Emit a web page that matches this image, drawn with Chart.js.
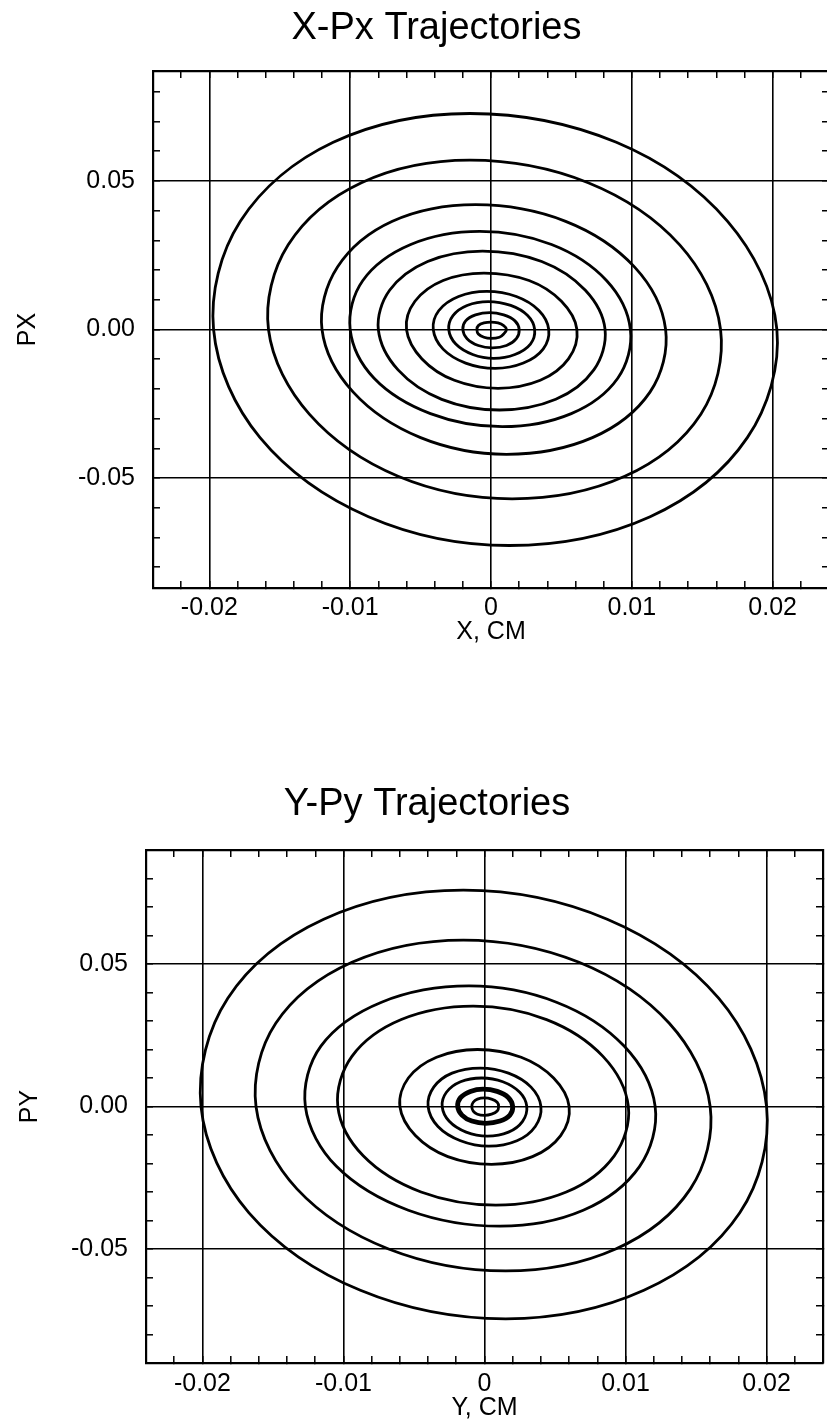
<!DOCTYPE html>
<html>
<head>
<meta charset="utf-8">
<title>X-Px / Y-Py Trajectories</title>
<script src="https://cdn.jsdelivr.net/npm/chart.js@4.4.1/dist/chart.umd.min.js"></script>
<style>
    html, body { margin: 0; padding: 0; background: #fff; overflow: hidden; }
    body { width: 827px; height: 1424px; position: relative; }
    canvas { position: absolute; left: 0; }
    #xpx { top: 0; }
    #ypy { top: 760px; }
</style>
</head>
<body>
<canvas id="xpx" width="873" height="660"></canvas>
<canvas id="ypy" width="854" height="664"></canvas>
<script>
// axis ticks (position in cm, momentum)
var posMinor = [-0.022, -0.020, -0.018, -0.016, -0.014, -0.012, -0.010, -0.008, -0.006, -0.004, -0.002, 0,
    0.002, 0.004, 0.006, 0.008, 0.010, 0.012, 0.014, 0.016, 0.018, 0.020, 0.022];
var posMajor = [-0.02, -0.01, 0, 0.01, 0.02];
var posLabels = ['-0.02', '-0.01', '0', '0.01', '0.02'];
var momMinor = [-0.08, -0.07, -0.06, -0.05, -0.04, -0.03, -0.02, -0.01, 0, 0.01, 0.02, 0.03, 0.04, 0.05, 0.06, 0.07, 0.08];
var momMajor = [-0.05, 0, 0.05];
var momLabels = ['-0.05', '0.00', '0.05'];

// X-Px orbits, outermost first, [x, px] going left -> top -> right -> bottom
var xOrbit1 = [[-0.0197, 0], [-0.0178, 0.0364], [-0.0112, 0.0630], [-0.0015, 0.0727], [0.0089, 0.0630], [0.0168, 0.0364],
    [0.0203, 0], [0.0182, -0.0364], [0.0113, -0.0630], [0.0013, -0.0727], [-0.0087, -0.0630], [-0.0164, -0.0364]];
var xOrbit2 = [[-0.0158, 0], [-0.0144, 0.0285], [-0.0092, 0.0494], [-0.0015, 0.0570], [0.0069, 0.0494], [0.0134, 0.0285],
    [0.0163, 0], [0.0149, -0.0285], [0.0095, -0.0494], [0.0015, -0.0570], [-0.0066, -0.0494], [-0.0129, -0.0285]];
var xOrbit3 = [[-0.0120, 0], [-0.0109, 0.0210], [-0.0070, 0.0364], [-0.0011, 0.0420], [0.0053, 0.0364], [0.0102, 0.0210],
    [0.0124, 0], [0.0113, -0.0210], [0.0072, -0.0364], [0.0011, -0.0420], [-0.0050, -0.0364], [-0.0098, -0.0210]];
var xOrbit4 = [[-0.0100, 0], [-0.0091, 0.0165], [-0.0057, 0.0286], [-0.0008, 0.0330], [0.0043, 0.0286], [0.0082, 0.0165],
    [0.0099, 0], [0.0090, -0.0164], [0.0057, -0.0283], [0.0008, -0.0327], [-0.0043, -0.0283], [-0.0083, -0.0164]];
var xOrbit5 = [[-0.0080, 0], [-0.0072, 0.0132], [-0.0045, 0.0229], [-0.0006, 0.0264], [0.0036, 0.0229], [0.0067, 0.0132],
    [0.0081, 0], [0.0073, -0.0136], [0.0046, -0.0235], [0.0006, -0.0271], [-0.0035, -0.0235], [-0.0066, -0.0136]];
var xOrbit6 = [[-0.0060, 0], [-0.0054, 0.0095], [-0.0034, 0.0165], [-0.0005, 0.0190], [0.0027, 0.0165], [0.0050, 0.0095],
    [0.0061, 0], [0.0055, -0.0099], [0.0035, -0.0171], [0.0005, -0.0198], [-0.0026, -0.0171], [-0.0049, -0.0099]];
var xOrbit7 = [[-0.0041, 0], [-0.0037, 0.0064], [-0.0023, 0.0111], [-0.0003, 0.0128], [0.0018, 0.0111], [0.0034, 0.0064],
    [0.0041, 0], [0.0037, -0.0066], [0.0023, -0.0113], [0.0003, -0.0131], [-0.0018, -0.0113], [-0.0034, -0.0066]];
var xOrbit8 = [[-0.0030, 0], [-0.0027, 0.0047], [-0.0017, 0.0081], [-0.0002, 0.0094], [0.0014, 0.0081], [0.0026, 0.0047],
    [0.0031, 0], [0.0028, -0.0049], [0.0017, -0.0084], [0.0002, -0.0097], [-0.0013, -0.0084], [-0.0025, -0.0049]];
var xOrbit9 = [[-0.0020, 0], [-0.0018, 0.0029], [-0.0011, 0.0049], [-0.0001, 0.0057], [0.0009, 0.0049], [0.0017, 0.0029],
    [0.0020, 0], [0.0018, -0.0031], [0.0011, -0.0054], [0.0001, -0.0062], [-0.0009, -0.0054], [-0.0017, -0.0031]];
var xOrbit10 = [[-0.0010, 0], [-0.0009, 0.0013], [-0.0005, 0.0022], [0, 0.0025], [0.0005, 0.0022], [0.0009, 0.0013],
    [0.0011, 0], [0.0009, -0.0015], [0.0006, -0.0026], [0, -0.0030], [-0.0005, -0.0026], [-0.0009, -0.0015]];

// Y-Py orbits, outermost first, [y, py]
var yOrbit1 = [[-0.0201, 0], [-0.0182, 0.0380], [-0.0114, 0.0657], [-0.0015, 0.0759], [0.0087, 0.0657], [0.0166, 0.0380],
    [0.0200, 0], [0.0181, -0.0373], [0.0113, -0.0645], [0.0015, -0.0745], [-0.0088, -0.0645], [-0.0167, -0.0373]];
var yOrbit2 = [[-0.0162, 0], [-0.0148, 0.0292], [-0.0094, 0.0506], [-0.0015, 0.0584], [0.0067, 0.0506], [0.0131, 0.0292],
    [0.0160, 0], [0.0146, -0.0289], [0.0093, -0.0500], [0.0015, -0.0577], [-0.0068, -0.0500], [-0.0133, -0.0289]];
var yOrbit3 = [[-0.0127, 0], [-0.0116, 0.0212], [-0.0073, 0.0366], [-0.0011, 0.0423], [0.0051, 0.0366], [0.0099, 0.0212],
    [0.0121, 0], [0.0110, -0.0210], [0.0070, -0.0364], [0.0011, -0.0420], [-0.0054, -0.0364], [-0.0105, -0.0210]];
var yOrbit4 = [[-0.0104, 0], [-0.0094, 0.0176], [-0.0059, 0.0305], [-0.0008, 0.0352], [0.0044, 0.0305], [0.0084, 0.0176],
    [0.0102, 0], [0.0092, -0.0173], [0.0058, -0.0300], [0.0008, -0.0346], [-0.0045, -0.0300], [-0.0086, -0.0173]];
var yOrbit5 = [[-0.0060, 0], [-0.0054, 0.0100], [-0.0034, 0.0173], [-0.0005, 0.0200], [0.0026, 0.0173], [0.0049, 0.0100],
    [0.0060, 0], [0.0054, -0.0102], [0.0034, -0.0176], [0.0005, -0.0203], [-0.0026, -0.0176], [-0.0049, -0.0102]];
var yOrbit6 = [[-0.0040, 0], [-0.0036, 0.0068], [-0.0023, 0.0117], [-0.0003, 0.0135], [0.0017, 0.0117], [0.0033, 0.0068],
    [0.0040, 0], [0.0036, -0.0070], [0.0023, -0.0120], [0.0003, -0.0139], [-0.0017, -0.0120], [-0.0033, -0.0070]];
var yOrbit7 = [[-0.0030, 0], [-0.0027, 0.0050], [-0.0017, 0.0087], [-0.0002, 0.0100], [0.0013, 0.0087], [0.0025, 0.0050],
    [0.0030, 0], [0.0027, -0.0052], [0.0017, -0.0090], [0.0002, -0.0104], [-0.0013, -0.0090], [-0.0025, -0.0052]];
var yOrbit8 = [[-0.0019, 0], [-0.0017, 0.0031], [-0.0010, 0.0053], [-0.0001, 0.0061], [0.0009, 0.0053], [0.0017, 0.0031],
    [0.0020, 0], [0.0018, -0.0030], [0.0011, -0.0051], [0.0001, -0.0059], [-0.0009, -0.0051], [-0.0016, -0.0030]];
var yOrbit9 = [[-0.0009, 0], [-0.0008, 0.0015], [-0.0005, 0.0026], [0, 0.0030], [0.0005, 0.0026], [0.0009, 0.0015],
    [0.0010, 0], [0.0009, -0.0016], [0.0005, -0.0027], [0, -0.0031], [-0.0005, -0.0027], [-0.0008, -0.0016]];

var xOrbits = [xOrbit1, xOrbit2, xOrbit3, xOrbit4, xOrbit5, xOrbit6, xOrbit7, xOrbit8, xOrbit9, xOrbit10];
var yOrbits = [yOrbit1, yOrbit2, yOrbit3, yOrbit4, yOrbit5, yOrbit6, yOrbit7, yOrbit8, yOrbit9];
var yBoldOrbit = 7;   // the one drawn heavier in Y-Py

Chart.defaults.font.family = "'Liberation Sans', Arial, Helvetica, sans-serif";
Chart.defaults.color = '#000';

function near(v, list) {
    for (var i = 0; i < list.length; i++) {
        if (Math.abs(v - list[i]) < 1e-9) return i;
    }
    return -1;
}

// line elements are open paths; turn each orbit into a smooth closed loop
var closeLoops = {
    id: 'closeLoops',
    afterDatasetUpdate: function (chart, args) {
        var line = args.meta.dataset;
        if (!line) return;
        line._loop = true;
        line._fullLoop = true;
        line._pointsUpdated = false;
        line._segments = undefined;
        line._path = undefined;
        line.updateControlPoints(chart.chartArea, 'x');
    }
};

function makeScales(cfg) {
    var gridColor = function (list) {
        return function (ctx) {
            return ctx.tick && near(ctx.tick.value, list) >= 0 ? '#000' : 'rgba(0,0,0,0)';
        };
    };
    return {
        x: {
            type: 'linear', position: 'bottom', min: -0.024, max: 0.024,
            afterBuildTicks: function (s) { s.ticks = posMinor.map(function (v) { return { value: v }; }); },
            afterFit: function (s) { s.height = cfg.xHeight; },
            grid: { color: gridColor(posMajor), lineWidth: 1.6, tickColor: '#000', tickWidth: 1.5, tickLength: -7 },
            border: { display: true, color: '#000', width: 2.2 },
            ticks: {
                autoSkip: false, maxRotation: 0, padding: cfg.xPad, font: { size: 25 },
                callback: function (v) { var i = near(v, posMajor); return i >= 0 ? posLabels[i] : ''; }
            },
            title: { display: true, text: cfg.xTitle, font: { size: 25 }, padding: { top: 0, bottom: cfg.xTitlePad } }
        },
        xTop: {
            type: 'linear', position: 'top', min: -0.024, max: 0.024,
            afterBuildTicks: function (s) { s.ticks = posMinor.map(function (v) { return { value: v }; }); },
            afterFit: function (s) { s.height = 0; },
            grid: { drawOnChartArea: false, color: '#000', lineWidth: 1.5, tickLength: -7 },
            border: { display: true, color: '#000', width: 2.2 },
            ticks: { display: false, autoSkip: false }
        },
        y: {
            type: 'linear', position: 'left', min: -cfg.yMax, max: cfg.yMax,
            afterBuildTicks: function (s) { s.ticks = momMinor.map(function (v) { return { value: v }; }); },
            afterFit: function (s) { s.width = cfg.yWidth; },
            grid: { color: gridColor(momMajor), lineWidth: 1.6, tickColor: '#000', tickWidth: 1.5, tickLength: -7 },
            border: { display: true, color: '#000', width: 2.2 },
            ticks: {
                autoSkip: false, padding: 25, font: { size: 25 },
                callback: function (v) { var i = near(v, momMajor); return i >= 0 ? momLabels[i] : ''; }
            },
            title: { display: true, text: cfg.yTitle, font: { size: 25 }, padding: { top: cfg.yTitlePad, bottom: 0 } }
        },
        yRight: {
            type: 'linear', position: 'right', min: -cfg.yMax, max: cfg.yMax,
            afterBuildTicks: function (s) { s.ticks = momMinor.map(function (v) { return { value: v }; }); },
            afterFit: function (s) { s.width = cfg.rightWidth; },
            grid: { drawOnChartArea: false, color: '#000', lineWidth: 1.5, tickLength: -7 },
            border: { display: true, color: '#000', width: 2.2 },
            ticks: { display: false, autoSkip: false }
        }
    };
}

function makeChart(canvasId, orbits, cfg) {
    var datasets = orbits.map(function (pts, i) {
        return {
            data: pts.map(function (p) { return { x: p[0], y: p[1] }; }),
            borderColor: '#000',
            borderWidth: i === cfg.bold ? 4.8 : 2.8,
            tension: 0.35,
            spanGaps: true,
            pointRadius: 0,
            pointHoverRadius: 0,
            xAxisID: 'x',
            yAxisID: 'y'
        };
    });
    var ctx = document.getElementById(canvasId).getContext('2d');
    return new Chart(ctx, {
        type: 'line',
        data: { datasets: datasets },
        options: {
            responsive: false,
            animation: false,
            events: [],
            layout: { padding: 0 },
            plugins: {
                legend: { display: false },
                tooltip: { enabled: false },
                title: {
                    display: true, text: cfg.title, color: '#000',
                    font: { size: 38, weight: 'normal' },
                    padding: { top: cfg.titleTop, bottom: cfg.titleBottom }
                }
            },
            scales: makeScales(cfg)
        },
        plugins: [closeLoops]
    });
}

makeChart('xpx', xOrbits, {
    title: 'X-Px Trajectories', titleTop: 6, titleBottom: 19.4,
    xTitle: 'X, CM', yTitle: 'PX', yMax: 0.087,
    xHeight: 72, xPad: 12, xTitlePad: 13,
    yWidth: 153, yTitlePad: 13, rightWidth: 44, bold: -1
});

makeChart('ypy', yOrbits, {
    title: 'Y-Py Trajectories', titleTop: 22.2, titleBottom: 22.2,
    xTitle: 'Y, CM', yTitle: 'PY', yMax: 0.09,
    xHeight: 61, xPad: 13, xTitlePad: 1,
    yWidth: 146, yTitlePad: 15, rightWidth: 31, bold: yBoldOrbit
});
</script>
</body>
</html>
